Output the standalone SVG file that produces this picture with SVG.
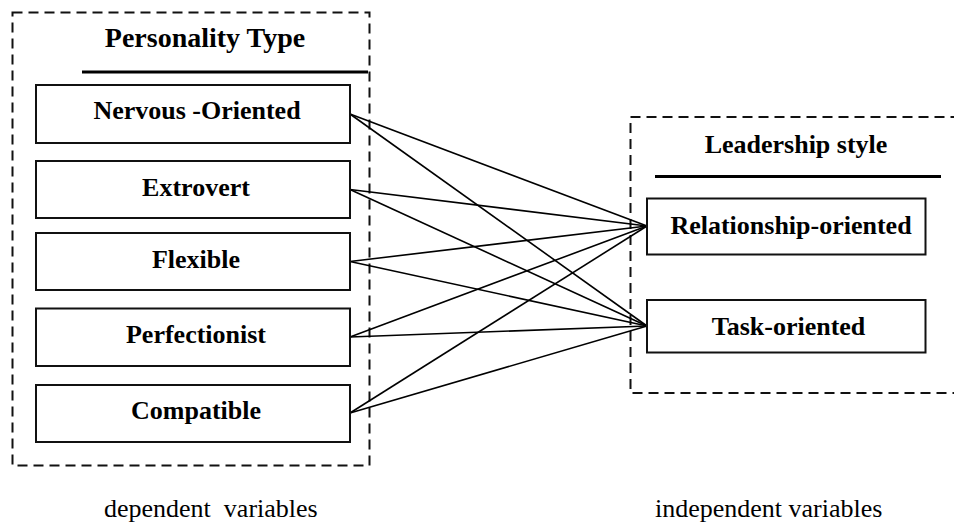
<svg xmlns="http://www.w3.org/2000/svg" width="954" height="525" viewBox="0 0 954 525">
  <style>
    .frame { fill: none; stroke: #111; stroke-width: 2; stroke-dasharray: 10 6; }
    .rule { stroke: #000; stroke-width: 3; }
    .box { fill: #fff; stroke: #111; stroke-width: 2; }
    .label { font-family: "Liberation Serif", "Times New Roman", serif; font-weight: bold; font-size: 26px; text-anchor: middle; fill: #000; }
    .title { font-family: "Liberation Serif", "Times New Roman", serif; font-weight: bold; font-size: 28px; text-anchor: middle; fill: #000; }
    .caption { font-family: "Liberation Serif", "Times New Roman", serif; font-size: 26px; fill: #000; }
    .link { stroke: #000; stroke-width: 1.6; fill: none; }
  </style>
  <rect width="954" height="525" fill="#fff"/>

  <!-- personality type group -->
  <g id="personality-group">
    <rect class="frame" x="12.5" y="12.5" width="357" height="453"/>
    <text class="title" x="205" y="47">Personality Type</text>
    <line class="rule" x1="82" y1="72" x2="368" y2="72"/>
  </g>

  <!-- leadership style group (runs past the right edge) -->
  <g id="leadership-group">
    <rect class="frame" x="630.5" y="117" width="340" height="276"/>
    <text class="label" x="796" y="153">Leadership style</text>
    <line class="rule" x1="655" y1="176.5" x2="941" y2="176.5"/>
  </g>

  <!-- connectors -->
  <g id="connectors">
    <line class="link" x1="350" y1="114" x2="647" y2="226"/>
    <line class="link" x1="350" y1="114" x2="647" y2="326"/>
    <line class="link" x1="350" y1="189.5" x2="647" y2="226"/>
    <line class="link" x1="350" y1="189.5" x2="647" y2="326"/>
    <line class="link" x1="350" y1="261.5" x2="647" y2="226"/>
    <line class="link" x1="350" y1="261.5" x2="647" y2="326"/>
    <line class="link" x1="350" y1="337" x2="647" y2="226"/>
    <line class="link" x1="350" y1="337" x2="647" y2="326"/>
    <line class="link" x1="350" y1="413" x2="647" y2="226"/>
    <line class="link" x1="350" y1="413" x2="647" y2="326"/>
  </g>

  <!-- personality nodes -->
  <g id="nervous-oriented">
    <rect class="box" x="36" y="85" width="314" height="58"/>
    <text class="label" x="197" y="119">Nervous -Oriented</text>
  </g>
  <g id="extrovert">
    <rect class="box" x="36" y="161" width="314" height="57"/>
    <text class="label" x="196" y="195.5">Extrovert</text>
  </g>
  <g id="flexible">
    <rect class="box" x="36" y="233" width="314" height="57"/>
    <text class="label" x="196" y="268">Flexible</text>
  </g>
  <g id="perfectionist">
    <rect class="box" x="36" y="308.5" width="314" height="57.5"/>
    <text class="label" x="196" y="343">Perfectionist</text>
  </g>
  <g id="compatible">
    <rect class="box" x="36" y="385" width="314" height="57"/>
    <text class="label" x="196" y="419">Compatible</text>
  </g>

  <!-- leadership nodes -->
  <g id="relationship-oriented">
    <rect class="box" x="647" y="198.5" width="278.5" height="56"/>
    <text class="label" x="791" y="233.5">Relationship-oriented</text>
  </g>
  <g id="task-oriented">
    <rect class="box" x="647" y="300" width="278.5" height="52.5"/>
    <text class="label" x="788.5" y="335">Task-oriented</text>
  </g>

  <!-- captions -->
  <text class="caption" x="104" y="517" xml:space="preserve">dependent  variables</text>
  <text class="caption" x="655" y="517">independent variables</text>
</svg>
